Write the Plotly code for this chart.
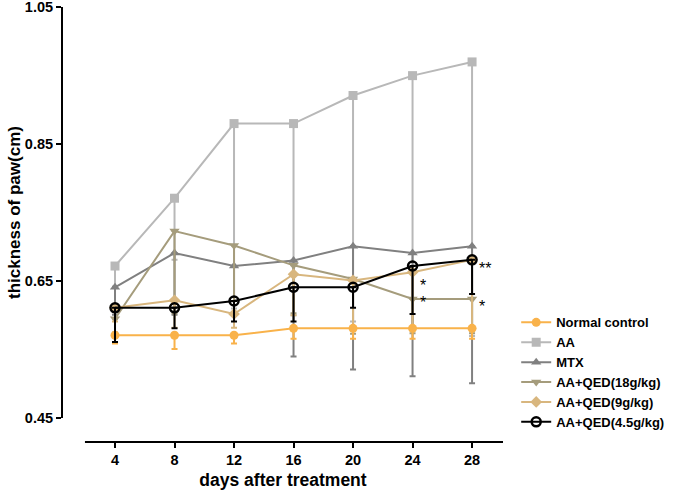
import plotly.graph_objects as go

days = [4, 8, 12, 16, 20, 24, 28]
series_names = ["Normal control", "AA", "MTX", "AA+QED(18g/kg)", "AA+QED(9g/kg)", "AA+QED(4.5g/kg)"]

normal = [0.571, 0.571, 0.571, 0.581, 0.581, 0.581, 0.581]
normal_err = [0.012, 0.02, 0.012, 0.015, 0.015, 0.015, 0.015]
aa = [0.672, 0.771, 0.880, 0.880, 0.921, 0.950, 0.970]
aa_err = [0.03, 0.09, 0.27, 0.28, 0.33, 0.37, 0.40]
mtx = [0.641, 0.691, 0.672, 0.680, 0.701, 0.691, 0.701]
mtx_err = [0.04, 0.09, 0.07, 0.14, 0.18, 0.18, 0.20]
qed18 = [0.595, 0.723, 0.702, 0.673, 0.653, 0.624, 0.624]
qed18_err = [0.02, 0.12, 0.10, 0.07, 0.08, 0.05, 0.05]
qed9 = [0.611, 0.622, 0.602, 0.660, 0.651, 0.663, 0.681]
qed9_err = [0.02, 0.04, 0.02, 0.06, 0.07, 0.08, 0.10]
qed45 = [0.611, 0.611, 0.621, 0.641, 0.641, 0.672, 0.681]
qed45_err = [0.05, 0.03, 0.03, 0.05, 0.03, 0.07, 0.05]

y_ticks = [0.45, 0.65, 0.85, 1.05]
y_tick_labels = ["0.45", "0.65", "0.85", "1.05"]

colors = ["#F9B24A", "#B8B8B8", "#808080", "#A59C7C", "#D8B67E", "#000000"]
symbols = ["circle", "square", "triangle-up", "triangle-down", "diamond", "circle-open"]
values = [normal, aa, mtx, qed18, qed9, qed45]
errs = [normal_err, aa_err, mtx_err, qed18_err, qed9_err, qed45_err]
draw_order = [1, 2, 3, 4, 0, 5]

# significance marks
sig_x = [28, 24, 24, 28]
sig_y = [0.669, 0.643, 0.619, 0.613]
sig_t = ["**", "*", "*", "*"]

X_MIN, X_LINE_START, X_MAX = 0.504, 1.98, 30.08

fig = go.Figure()
for i in draw_order:
    c = colors[i]
    fig.add_trace(go.Scatter(
        x=days, y=values[i], name=series_names[i], mode="lines+markers",
        legendrank=i + 1,
        line=dict(color=c, width=2),
        marker=dict(symbol=symbols[i], size=9, color=c,
                    line=dict(width=2.5 if i == 5 else 0, color=c)),
        error_y=dict(type="data", symmetric=False, array=[0] * len(days),
                     arrayminus=errs[i], color=c, thickness=2, width=3),
    ))

for xx, yy, tt in zip(sig_x, sig_y, sig_t):
    fig.add_annotation(x=xx, y=yy, text=tt, showarrow=False, xanchor="left",
                       xshift=5, font=dict(size=16, color="#000000"))

# separated x-axis line (Prism style)
fig.add_shape(type="line", xref="x", yref="paper", x0=X_LINE_START, x1=X_MAX,
              y0=0, y1=0, line=dict(color="#000", width=2))

fig.update_layout(
    width=685, height=493,
    margin=dict(l=63, r=182, t=7, b=51, autoexpand=False),
    paper_bgcolor="white", plot_bgcolor="white",
    font=dict(family="Liberation Sans, Arial, sans-serif", color="#000"),
    showlegend=True,
    legend=dict(x=1.03, y=0.16, xanchor="left", yanchor="middle",
                font=dict(size=13, family="Liberation Sans, Arial, sans-serif", weight="bold"),
                itemwidth=30, tracegroupgap=0, bgcolor="rgba(0,0,0,0)"),
    xaxis=dict(domain=[0, 1], range=[X_MIN, X_MAX], anchor="free", position=0,
               automargin=False,
               tickvals=days, ticktext=[str(d) for d in days],
               showline=False, ticks="outside",
               ticklen=5, tickwidth=2, tickcolor="#000", showgrid=False, zeroline=False,
               tickfont=dict(size=14.5, weight="bold"),
               title=dict(text="days after treatment", font=dict(size=17.5, weight="bold"), standoff=6)),
    yaxis=dict(domain=[0.055, 1], range=[0.45, 1.0502], anchor="x",
               automargin=False, ticklabeloverflow="allow",
               tickvals=y_ticks, ticktext=y_tick_labels,
               showline=True, linecolor="#000", linewidth=2, ticks="outside",
               ticklen=5, tickwidth=2, tickcolor="#000", showgrid=False, zeroline=False,
               tickfont=dict(size=14.5, weight="bold"),
               title=dict(text="thickness of paw(cm)", font=dict(size=17, weight="bold"), standoff=0)),
)

fig.write_html("out.html", config={"displayModeBar": False},
               post_script="document.body.style.margin='0';")
